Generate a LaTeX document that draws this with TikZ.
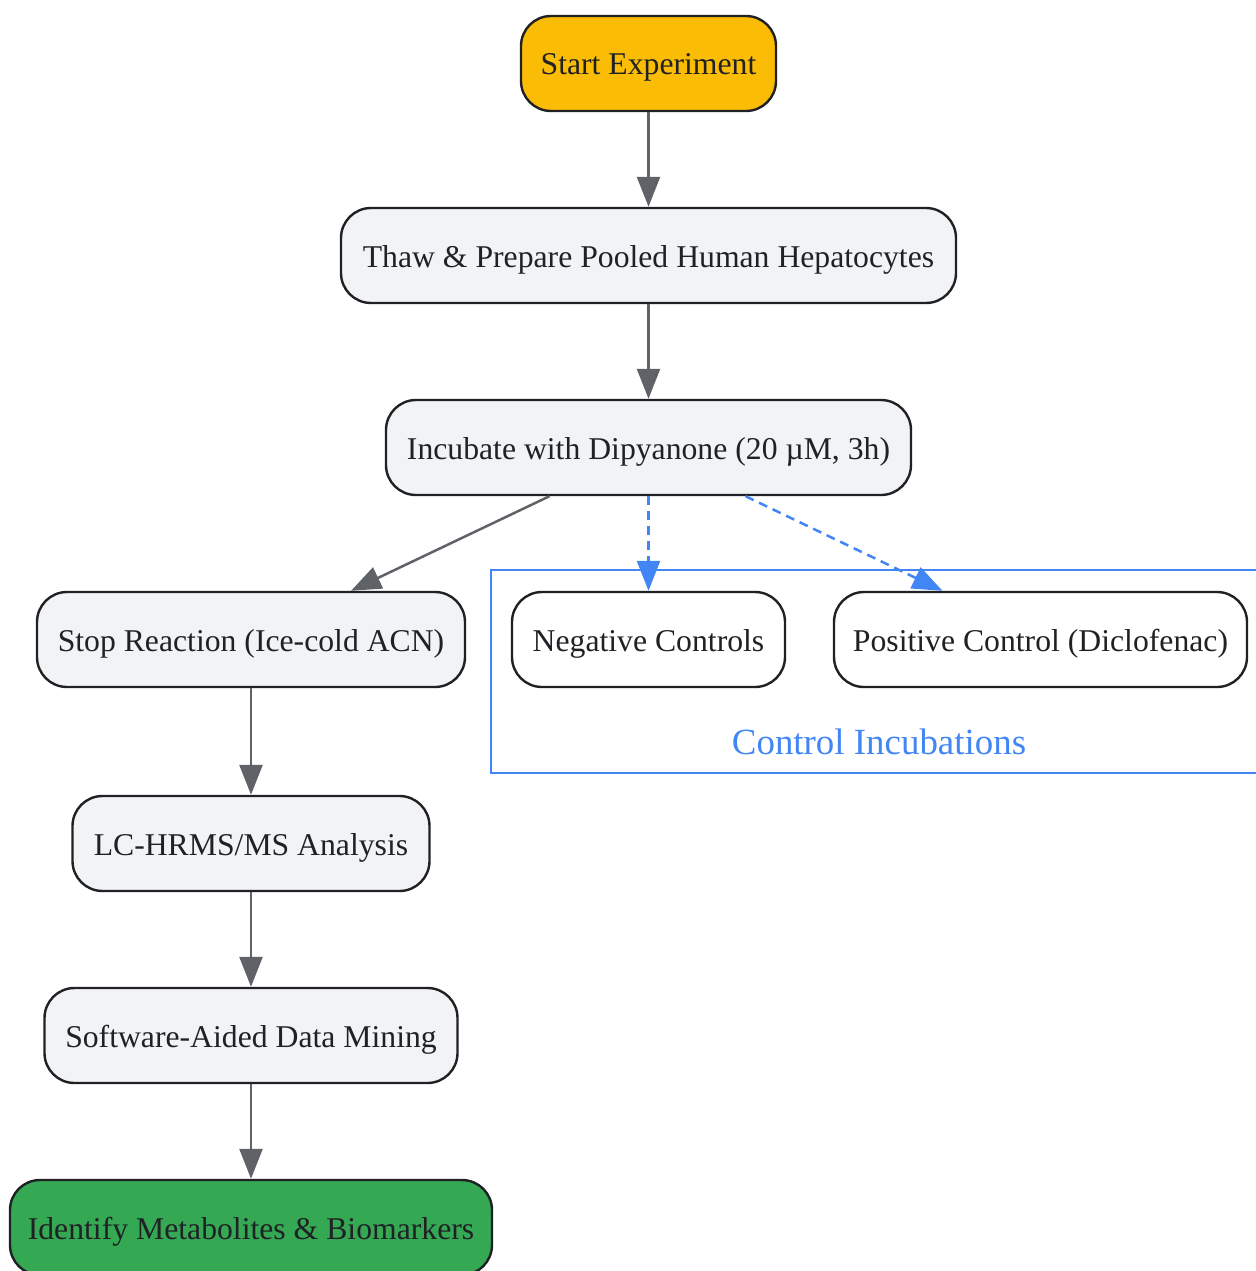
\documentclass[tikz,border=0pt]{standalone}
\usepackage{fontspec}
\setmainfont{Liberation Serif}
\usetikzlibrary{arrows.meta,positioning}
\definecolor{gInk}{HTML}{202124}
\definecolor{gGray}{HTML}{5F6368}
\definecolor{gFill}{HTML}{F1F3F4}
\definecolor{gYellow}{HTML}{FBBC05}
\definecolor{gGreen}{HTML}{34A853}
\definecolor{gBlue}{HTML}{4285F4}
\tikzset{
    box/.style={rectangle, rounded corners=30pt, draw=gInk, line width=2.4pt, fill=gFill,
        text=gInk, minimum height=95pt, inner sep=0pt, text height=23pt, text depth=0pt,
        font=\fontsize{31.7}{38}\selectfont},
    startbox/.style={box, fill=gYellow},
    endbox/.style={box, fill=gGreen},
    ctrlbox/.style={box, fill=white},
    flow/.style={-{Triangle[length=30pt,width=23pt]}, draw=gGray, line width=2.5pt},
    ctrl/.style={-{Triangle[length=30pt,width=23pt]}, draw=gBlue, line width=2.5pt,
        dash pattern=on 9pt off 6pt}
}
\begin{document}
\begin{tikzpicture}[x=1pt,y=-1pt]
\useasboundingbox (0,0) rectangle (1255,1271);
% control group frame
\draw[gBlue, line width=2.5pt] (1262,570) -- (491,570) -- (491,773) -- (1262,773);
\node[text=gBlue, text height=26pt, text depth=0pt, inner sep=0pt,
    font=\fontsize{36.9}{44}\selectfont] (ctrltitle) at (879,741) {Control Incubations};
% nodes
\node[startbox, minimum width=255pt] (start)  at (648.5,  63.5) {Start Experiment};
\node[box,      minimum width=615pt] (thaw)   at (648.5, 255.5) {Thaw \& Prepare Pooled Human Hepatocytes};
\node[box,      minimum width=525pt] (incub)  at (648.5, 447.5) {Incubate with Dipyanone (20 µM, 3h)};
\node[box,      minimum width=428pt] (stop)   at (251,   639.5) {Stop Reaction (Ice-cold ACN)};
\node[ctrlbox,  minimum width=273pt] (neg)    at (648.5, 639.5) {Negative Controls};
\node[ctrlbox,  minimum width=413pt] (pos)    at (1040.5,639.5) {Positive Control (Diclofenac)};
\node[box,      minimum width=357pt] (lcms)   at (251,   843.5) {LC-HRMS/MS Analysis};
\node[box,      minimum width=413pt] (mining) at (251,  1035.5) {Software-Aided Data Mining};
\node[endbox,   minimum width=482pt] (ident)  at (251,  1227.5) {Identify Metabolites \& Biomarkers};
% connectors
\draw[flow] (start) -- (thaw);
\draw[flow] (thaw) -- (incub);
\draw[flow] ([xshift=-99pt]incub.south) -- ([xshift=100pt]stop.north);
\draw[ctrl] (incub) -- (neg);
\draw[ctrl] ([xshift=97pt]incub.south) -- ([xshift=-98pt]pos.north);
\draw[flow] (stop) -- (lcms);
\draw[flow] (lcms) -- (mining);
\draw[flow] (mining) -- (ident);
\end{tikzpicture}
\end{document}
